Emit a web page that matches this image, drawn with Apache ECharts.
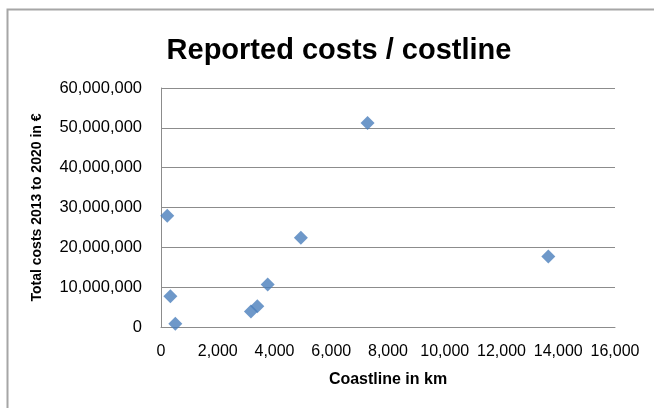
<!DOCTYPE html>
<html>
<head>
<meta charset="utf-8">
<title>Reported costs / costline</title>
<script src="https://cdn.jsdelivr.net/npm/echarts@6/dist/echarts.min.js"></script>
<style>
  html, body { margin: 0; padding: 0; background: #ffffff; }
  #chart { width: 654px; height: 408px; }
</style>
</head>
<body>
<div id="chart"></div>
<script>
// Coastline length (km) and total reported costs 2013-2020 (EUR) per country
const coastlineKm = [220, 330, 505, 3170, 3395, 3760, 4930, 7280, 13650];
const totalCosts = [27900000, 7700000, 830000, 3900000, 5200000, 10700000, 22400000, 51200000, 17700000];

const xTicks = [0, 2000, 4000, 6000, 8000, 10000, 12000, 14000, 16000];
const yTicks = [0, 10000000, 20000000, 30000000, 40000000, 50000000, 60000000];

const points = coastlineKm.map((x, i) => [x, totalCosts[i]]);
const fmt = v => v.toLocaleString('en-US');

const font = '"Liberation Sans", Arial, sans-serif';

const chart = echarts.init(document.getElementById('chart'), null, { renderer: 'canvas' });
chart.setOption({
  animation: false,
  backgroundColor: '#ffffff',
  title: {
    text: 'Reported costs / costline',
    left: 334,
    textAlign: 'center',
    top: 31,
    textStyle: { fontFamily: font, fontSize: 29, fontWeight: 'bold', color: '#000000' }
  },
  graphic: [{
    type: 'rect',
    shape: { x: 7.5, y: 9.5, width: 720, height: 480 },
    style: { fill: 'none', stroke: '#a6a6a6', lineWidth: 2 },
    silent: true
  }],
  grid: { left: 161, right: 39, top: 88, bottom: 81, containLabel: false },
  xAxis: {
    type: 'value',
    min: xTicks[0],
    max: xTicks[xTicks.length - 1],
    interval: xTicks[1] - xTicks[0],
    name: 'Coastline in km',
    nameLocation: 'middle',
    nameGap: 45,
    nameTextStyle: { fontFamily: font, fontSize: 16, fontWeight: 'bold', color: '#000000' },
    axisLine: { show: true, onZero: false, lineStyle: { color: '#8c8c8c', width: 1 } },
    axisTick: { show: false },
    splitLine: { show: false },
    axisLabel: {
      margin: 17,
      fontFamily: font, fontSize: 16, color: '#000000',
      formatter: v => fmt(v)
    }
  },
  yAxis: {
    type: 'value',
    min: yTicks[0],
    max: yTicks[yTicks.length - 1],
    interval: yTicks[1] - yTicks[0],
    name: 'Total costs 2013 to 2020 in €',
    nameLocation: 'middle',
    nameRotate: 90,
    nameGap: 117,
    nameTextStyle: { fontFamily: font, fontSize: 14, fontWeight: 'bold', color: '#000000' },
    axisLine: { show: true, lineStyle: { color: '#8c8c8c', width: 1 } },
    axisTick: { show: false },
    splitLine: { show: true, lineStyle: { color: '#8c8c8c', width: 1 } },
    axisLabel: {
      margin: 19,
      fontFamily: font, fontSize: 16.5, color: '#000000',
      padding: [3, 0, 0, 0],
      formatter: v => fmt(v)
    }
  },
  series: [{
    type: 'scatter',
    data: points,
    symbol: 'diamond',
    symbolSize: 14,
    itemStyle: { color: '#4a7ebb' }
  }]
});
</script>
</body>
</html>
